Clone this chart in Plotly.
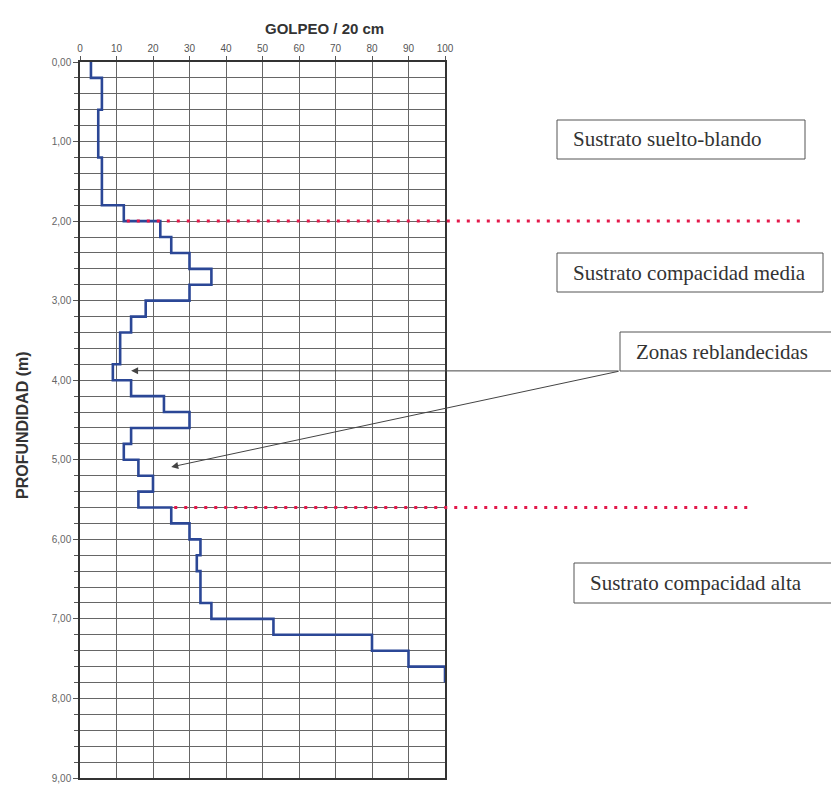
import plotly.graph_objects as go

W, H = 831, 785

# ---- data -------------------------------------------------------------
depth_top = [round(0.2 * i, 1) for i in range(39)]  # top of each 20 cm interval (m)
blows = [3, 6, 6, 5, 5, 5, 6, 6, 6, 12,
         22, 25, 30, 36, 30, 18, 14, 11, 11, 9,
         14, 23, 30, 14, 12, 16, 20, 16, 25, 30,
         33, 32, 33, 33, 36, 53, 80, 90, 100]
x_ticks = [0, 10, 20, 30, 40, 50, 60, 70, 80, 90, 100]
y_ticks = [0, 1, 2, 3, 4, 5, 6, 7, 8, 9]
boundary_depths = [2.0, 5.6]          # red dotted limits
boundary_start_blows = [12, 25]       # where dotted lines start (blow value)
labels = ["Sustrato suelto-blando", "Sustrato compacidad media",
          "Zonas reblandecidas", "Sustrato compacidad alta"]
soft_zone_heads = [(14, 3.88), (25, 5.09)]  # arrow heads (blows, depth)

# ---- layout geometry (pixels) -----------------------------------------
PL, PR, PT, PB = 80, 445, 62, 778
xd = [PL / W, PR / W]
yd = [1 - PB / H, 1 - PT / H]


def px(x):
    return x / W


def py(y):
    return 1 - y / H


def xval_to_paper(v):
    return xd[0] + v / 100 * (xd[1] - xd[0])


# step profile built from the interval data
ys = depth_top + [depth_top[-1] + 0.2]
xs = blows + [blows[-1]]

fig = go.Figure()
fig.add_trace(go.Scatter(x=xs, y=ys, mode="lines", line_shape="vh",
                         line=dict(color="#2b4796", width=2.6),
                         showlegend=False, hoverinfo="skip"))

grid_col = "#666666"
fig.update_layout(
    width=W, height=H,
    margin=dict(l=0, r=0, t=0, b=0),
    paper_bgcolor="white", plot_bgcolor="white",
    separators=",.",
    showlegend=False,
    xaxis=dict(domain=xd, range=[0, 100], side="top", tickvals=x_ticks,
               showgrid=True, gridcolor=grid_col, gridwidth=1,
               showline=True, linecolor="#333", linewidth=1.5, mirror=True,
               ticks="outside", ticklen=4, tickcolor="#555",
               tickfont=dict(family="Arial", size=10, color="#555"),
               zeroline=False, automargin=False, fixedrange=True),
    yaxis=dict(domain=yd, range=[9, 0], tickvals=y_ticks, tickformat=".2f",
               showgrid=True, gridcolor=grid_col, gridwidth=1,
               minor=dict(dtick=0.2, showgrid=True, gridcolor=grid_col,
                          gridwidth=1, ticks="outside", ticklen=4,
                          tickcolor="#555"),
               showline=True, linecolor="#333", linewidth=1.5, mirror=True,
               ticks="outside", ticklen=5, tickcolor="#555",
               tickfont=dict(family="Arial", size=10, color="#666"),
               zeroline=False, automargin=False, fixedrange=True),
)

# axis titles
fig.add_annotation(text="<b>GOLPEO / 20 cm</b>", xref="paper", yref="paper",
                   x=xval_to_paper(50), y=py(18), showarrow=False,
                   font=dict(family="Arial", size=15, color="#333"))
fig.add_annotation(text="<b>PROFUNDIDAD (m)</b>", xref="paper", yref="paper",
                   x=px(22), y=py(425), textangle=-90, showarrow=False,
                   xanchor="center", yanchor="middle",
                   font=dict(family="Arial", size=16, color="#333"))

# red dotted boundaries
ends = [800, 750]
for d, v, e in zip(boundary_depths, boundary_start_blows, ends):
    fig.add_shape(type="line", xref="paper", yref="y",
                  x0=xval_to_paper(v) + 3 / W, x1=px(e), y0=d, y1=d,
                  line=dict(color="#e3174a", width=3, dash="3px,7px"))

# label boxes (left, top, right, bottom in px)
boxes = [(557, 120, 805, 159), (557, 253, 823, 292),
         (620, 332, 840, 371), (574, 563, 840, 603)]
for (l, t, r, b), txt in zip(boxes, labels):
    fig.add_shape(type="rect", xref="paper", yref="paper",
                  x0=px(l), x1=px(r), y0=py(b), y1=py(t),
                  line=dict(color="#555", width=1), fillcolor="white")
    fig.add_annotation(text=txt, xref="paper", yref="paper",
                       x=px(l + 14), y=py((t + b) / 2), xanchor="left",
                       yanchor="middle", showarrow=False,
                       font=dict(family="Liberation Serif", size=21,
                                 color="#333"))

# arrows from "Zonas reblandecidas" box
tail_x = (620 - PL) / (PR - PL) * 100
tail_y = (371 - PT) / (PB - PT) * 9
for hx, hy in soft_zone_heads:
    fig.add_annotation(x=hx, y=hy, xref="x", yref="y",
                       ax=tail_x, ay=tail_y, axref="x", ayref="y",
                       showarrow=True, arrowhead=2, arrowsize=1.4,
                       arrowwidth=1, arrowcolor="#444", text="")

fig.write_html("out.html")
